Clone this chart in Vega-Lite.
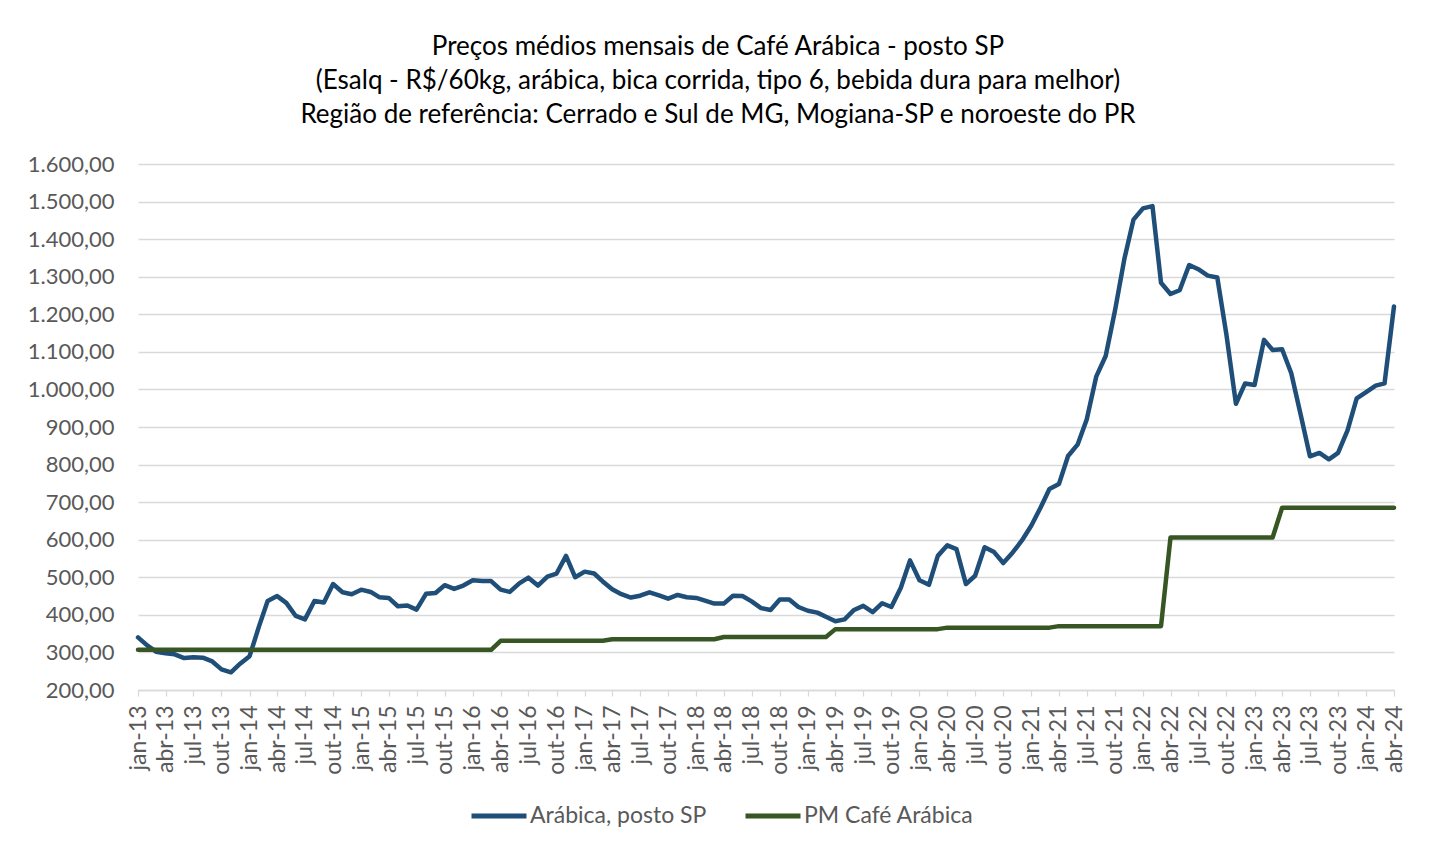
{
  "$schema": "https://vega.github.io/schema/vega-lite/v6.json",
  "width": 1256,
  "height": 526,
  "autosize": "none",
  "padding": {"left": 138, "top": 164, "right": 35, "bottom": 162},
  "background": "#ffffff",
  "config": {
    "view": {"stroke": null},
    "locale": {"number": {"decimal": ",", "thousands": ".", "grouping": [3], "currency": ["R$", ""]}}
  },
  "title": {
    "text": ["Preços médios mensais de Café Arábica - posto SP", "(Esalq - R$/60kg, arábica, bica corrida, tipo 6, bebida dura para melhor)", "Região de referência: Cerrado e Sul de MG, Mogiana-SP e noroeste do PR"],
    "font": "Lato", "fontSize": 26, "fontWeight": "normal", "color": "#000000",
    "lineHeight": 34, "anchor": "middle", "frame": "group", "dx": -48, "offset": 25
  },
  "data": {
    "format": {"parse": {"mes": "utc:'%Y-%m'"}},
    "values": [
      {"mes": "2013-01", "a": 340, "pm": 307}, {"mes": "2013-02", "a": 318, "pm": 307}, {"mes": "2013-03", "a": 302, "pm": 307},
      {"mes": "2013-04", "a": 298, "pm": 307}, {"mes": "2013-05", "a": 295, "pm": 307}, {"mes": "2013-06", "a": 285, "pm": 307},
      {"mes": "2013-07", "a": 287, "pm": 307}, {"mes": "2013-08", "a": 286, "pm": 307}, {"mes": "2013-09", "a": 276, "pm": 307},
      {"mes": "2013-10", "a": 255, "pm": 307}, {"mes": "2013-11", "a": 247, "pm": 307}, {"mes": "2013-12", "a": 270, "pm": 307},
      {"mes": "2014-01", "a": 290, "pm": 307}, {"mes": "2014-02", "a": 370, "pm": 307}, {"mes": "2014-03", "a": 437, "pm": 307},
      {"mes": "2014-04", "a": 450, "pm": 307}, {"mes": "2014-05", "a": 432, "pm": 307}, {"mes": "2014-06", "a": 397, "pm": 307},
      {"mes": "2014-07", "a": 388, "pm": 307}, {"mes": "2014-08", "a": 437, "pm": 307}, {"mes": "2014-09", "a": 433, "pm": 307},
      {"mes": "2014-10", "a": 482, "pm": 307}, {"mes": "2014-11", "a": 460, "pm": 307}, {"mes": "2014-12", "a": 455, "pm": 307},
      {"mes": "2015-01", "a": 467, "pm": 307}, {"mes": "2015-02", "a": 461, "pm": 307}, {"mes": "2015-03", "a": 447, "pm": 307},
      {"mes": "2015-04", "a": 445, "pm": 307}, {"mes": "2015-05", "a": 423, "pm": 307}, {"mes": "2015-06", "a": 425, "pm": 307},
      {"mes": "2015-07", "a": 414, "pm": 307}, {"mes": "2015-08", "a": 456, "pm": 307}, {"mes": "2015-09", "a": 458, "pm": 307},
      {"mes": "2015-10", "a": 479, "pm": 307}, {"mes": "2015-11", "a": 469, "pm": 307}, {"mes": "2015-12", "a": 478, "pm": 307},
      {"mes": "2016-01", "a": 492, "pm": 307}, {"mes": "2016-02", "a": 490, "pm": 307}, {"mes": "2016-03", "a": 490, "pm": 307},
      {"mes": "2016-04", "a": 467, "pm": 331}, {"mes": "2016-05", "a": 461, "pm": 331}, {"mes": "2016-06", "a": 484, "pm": 331},
      {"mes": "2016-07", "a": 499, "pm": 331}, {"mes": "2016-08", "a": 478, "pm": 331}, {"mes": "2016-09", "a": 502, "pm": 331},
      {"mes": "2016-10", "a": 510, "pm": 331}, {"mes": "2016-11", "a": 557, "pm": 331}, {"mes": "2016-12", "a": 500, "pm": 331},
      {"mes": "2017-01", "a": 515, "pm": 331}, {"mes": "2017-02", "a": 510, "pm": 331}, {"mes": "2017-03", "a": 489, "pm": 331},
      {"mes": "2017-04", "a": 468, "pm": 335}, {"mes": "2017-05", "a": 455, "pm": 335}, {"mes": "2017-06", "a": 446, "pm": 335},
      {"mes": "2017-07", "a": 451, "pm": 335}, {"mes": "2017-08", "a": 460, "pm": 335}, {"mes": "2017-09", "a": 452, "pm": 335},
      {"mes": "2017-10", "a": 443, "pm": 335}, {"mes": "2017-11", "a": 453, "pm": 335}, {"mes": "2017-12", "a": 447, "pm": 335},
      {"mes": "2018-01", "a": 445, "pm": 335}, {"mes": "2018-02", "a": 437, "pm": 335}, {"mes": "2018-03", "a": 430, "pm": 335},
      {"mes": "2018-04", "a": 430, "pm": 341}, {"mes": "2018-05", "a": 451, "pm": 341}, {"mes": "2018-06", "a": 450, "pm": 341},
      {"mes": "2018-07", "a": 436, "pm": 341}, {"mes": "2018-08", "a": 418, "pm": 341}, {"mes": "2018-09", "a": 413, "pm": 341},
      {"mes": "2018-10", "a": 441, "pm": 341}, {"mes": "2018-11", "a": 441, "pm": 341}, {"mes": "2018-12", "a": 421, "pm": 341},
      {"mes": "2019-01", "a": 411, "pm": 341}, {"mes": "2019-02", "a": 406, "pm": 341}, {"mes": "2019-03", "a": 395, "pm": 341},
      {"mes": "2019-04", "a": 383, "pm": 362}, {"mes": "2019-05", "a": 388, "pm": 362}, {"mes": "2019-06", "a": 413, "pm": 362},
      {"mes": "2019-07", "a": 424, "pm": 362}, {"mes": "2019-08", "a": 407, "pm": 362}, {"mes": "2019-09", "a": 431, "pm": 362},
      {"mes": "2019-10", "a": 421, "pm": 362}, {"mes": "2019-11", "a": 472, "pm": 362}, {"mes": "2019-12", "a": 545, "pm": 362},
      {"mes": "2020-01", "a": 492, "pm": 362}, {"mes": "2020-02", "a": 480, "pm": 362}, {"mes": "2020-03", "a": 557, "pm": 362},
      {"mes": "2020-04", "a": 585, "pm": 366}, {"mes": "2020-05", "a": 575, "pm": 366}, {"mes": "2020-06", "a": 482, "pm": 366},
      {"mes": "2020-07", "a": 504, "pm": 366}, {"mes": "2020-08", "a": 580, "pm": 366}, {"mes": "2020-09", "a": 567, "pm": 366},
      {"mes": "2020-10", "a": 538, "pm": 366}, {"mes": "2020-11", "a": 566, "pm": 366}, {"mes": "2020-12", "a": 598, "pm": 366},
      {"mes": "2021-01", "a": 638, "pm": 366}, {"mes": "2021-02", "a": 687, "pm": 366}, {"mes": "2021-03", "a": 735, "pm": 366},
      {"mes": "2021-04", "a": 748, "pm": 370}, {"mes": "2021-05", "a": 823, "pm": 370}, {"mes": "2021-06", "a": 853, "pm": 370},
      {"mes": "2021-07", "a": 920, "pm": 370}, {"mes": "2021-08", "a": 1034, "pm": 370}, {"mes": "2021-09", "a": 1089, "pm": 370},
      {"mes": "2021-10", "a": 1208, "pm": 370}, {"mes": "2021-11", "a": 1347, "pm": 370}, {"mes": "2021-12", "a": 1452, "pm": 370},
      {"mes": "2022-01", "a": 1482, "pm": 370}, {"mes": "2022-02", "a": 1488, "pm": 370}, {"mes": "2022-03", "a": 1284, "pm": 370},
      {"mes": "2022-04", "a": 1254, "pm": 606}, {"mes": "2022-05", "a": 1264, "pm": 606}, {"mes": "2022-06", "a": 1331, "pm": 606},
      {"mes": "2022-07", "a": 1320, "pm": 606}, {"mes": "2022-08", "a": 1303, "pm": 606}, {"mes": "2022-09", "a": 1298, "pm": 606},
      {"mes": "2022-10", "a": 1145, "pm": 606}, {"mes": "2022-11", "a": 962, "pm": 606}, {"mes": "2022-12", "a": 1016, "pm": 606},
      {"mes": "2023-01", "a": 1012, "pm": 606}, {"mes": "2023-02", "a": 1132, "pm": 606}, {"mes": "2023-03", "a": 1105, "pm": 606},
      {"mes": "2023-04", "a": 1107, "pm": 685}, {"mes": "2023-05", "a": 1043, "pm": 685}, {"mes": "2023-06", "a": 932, "pm": 685},
      {"mes": "2023-07", "a": 822, "pm": 685}, {"mes": "2023-08", "a": 831, "pm": 685}, {"mes": "2023-09", "a": 814, "pm": 685},
      {"mes": "2023-10", "a": 831, "pm": 685}, {"mes": "2023-11", "a": 891, "pm": 685}, {"mes": "2023-12", "a": 976, "pm": 685},
      {"mes": "2024-01", "a": 993, "pm": 685}, {"mes": "2024-02", "a": 1010, "pm": 685}, {"mes": "2024-03", "a": 1016, "pm": 685},
      {"mes": "2024-04", "a": 1221, "pm": 685}
    ]
  },
  "transform": [{"fold": ["a", "pm"], "as": ["serie", "valor"]}],
  "mark": {"type": "line", "strokeWidth": 4.5, "strokeCap": "round", "strokeJoin": "round"},
  "encoding": {
    "x": {
      "field": "mes", "type": "temporal",
      "scale": {"type": "utc", "nice": false},
      "axis": {
        "title": null,
        "tickCount": {"interval": "month", "step": 3},
        "labelExpr": "['jan','fev','mar','abr','mai','jun','jul','ago','set','out','nov','dez'][utcmonth(datum.value)] + '-' + utcFormat(datum.value, '%y')",
        "labelAngle": -90, "labelAlign": "right", "labelBaseline": "middle",
        "labelFont": "Lato", "labelFontSize": 23, "labelColor": "#595959",
        "labelPadding": 9, "labelOverlap": false, "labelFlush": false, "labelBound": false,
        "grid": false, "domainColor": "#d9d9d9", "domainWidth": 1.3,
        "tickColor": "#d9d9d9", "tickSize": 6, "tickWidth": 1.3
      }
    },
    "y": {
      "field": "valor", "type": "quantitative",
      "scale": {"domain": [200, 1600], "nice": false, "zero": false},
      "axis": {
        "title": null,
        "values": [200, 300, 400, 500, 600, 700, 800, 900, 1000, 1100, 1200, 1300, 1400, 1500, 1600],
        "format": ",.2f", "domain": false, "ticks": false,
        "labelFont": "Lato", "labelFontSize": 22, "labelColor": "#595959", "labelPadding": 24,
        "gridColor": "#d9d9d9", "gridWidth": 1.3
      }
    },
    "color": {
      "field": "serie", "type": "nominal",
      "scale": {"domain": ["a", "pm"], "range": ["#1F4E79", "#375623"]},
      "legend": {
        "title": null, "orient": "none", "legendX": 331, "legendY": 622, "direction": "horizontal",
        "symbolType": "stroke", "symbolSize": 3025, "symbolStrokeWidth": 5,
        "labelFont": "Lato", "labelFontSize": 23, "labelColor": "#595959", "labelLimit": 400,
        "labelOffset": 1, "columnPadding": 28,
        "labelExpr": "datum.label == 'a' ? 'Arábica, posto SP' : 'PM Café Arábica'"
      }
    }
  }
}
